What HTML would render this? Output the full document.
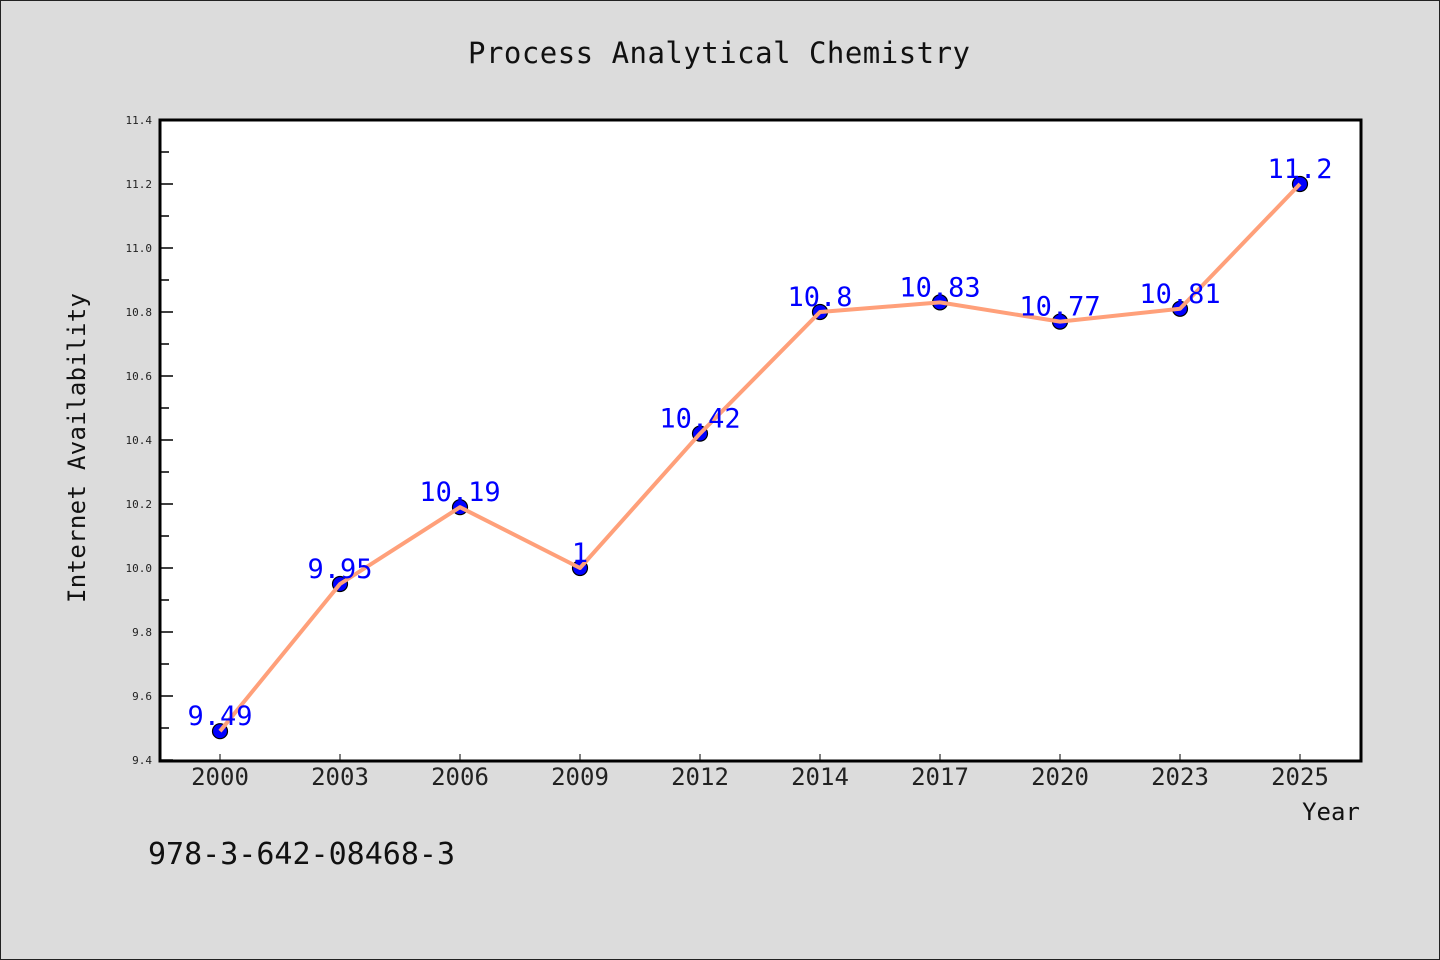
<!DOCTYPE html>
<html><head><meta charset="utf-8"><style>
html,body{margin:0;padding:0;background:#dcdcdc;}
svg{display:block;font-family:"WenQuanYi Zen Hei Mono","WenQuanYi Zen Hei","DejaVu Sans Mono",monospace;}
</style></head><body>
<svg id="chart" width="1440" height="960" viewBox="0 0 1440 960">
<rect x="0.5" y="0.5" width="1439" height="959" fill="#dcdcdc" stroke="#222" stroke-width="1"/>
<text x="719" y="63" font-size="29" text-anchor="middle" fill="#111" textLength="502">Process Analytical Chemistry</text>
<rect x="160" y="120" width="1201" height="641" fill="#fff"/>
<g id="axes"></g>
<g id="series"></g>
<rect x="160" y="120" width="1201" height="641" fill="none" stroke="#000" stroke-width="3"/>
<text x="1331" y="820" font-size="24" text-anchor="middle" fill="#111">Year</text>
<text transform="translate(85,448) rotate(-90)" font-size="24" text-anchor="middle" fill="#111" textLength="310">Internet Availability</text>
<text x="148" y="864" font-size="30" fill="#111">978-3-642-08468-3</text>
</svg>
<script>
const categories = ["2000","2003","2006","2009","2012","2014","2017","2020","2023","2025"];
const values = [9.49, 9.95, 10.19, 10.0, 10.42, 10.8, 10.83, 10.77, 10.81, 11.2];
const valueLabels = ["9.49","9.95","10.19","1","10.42","10.8","10.83","10.77","10.81","11.2"];
const yTicks = ["9.4","9.6","9.8","10.0","10.2","10.4","10.6","10.8","11.0","11.2","11.4"];
const NS="http://www.w3.org/2000/svg";
const x0=160,x1=1360,y0=760,y1=120,yMin=9.4,yMax=11.4;
function xs(i){return x0+(i+0.5)*(x1-x0)/categories.length;}
function ys(v){return y0-(v-yMin)/(yMax-yMin)*(y0-y1);}
function mk(tag,attrs,parent){const e=document.createElementNS(NS,tag);for(const k in attrs)e.setAttribute(k,attrs[k]);parent.appendChild(e);return e;}
const axes=document.getElementById('axes'),series=document.getElementById('series');
yTicks.forEach(t=>{const v=parseFloat(t),y=ys(v);
 const l=mk('line',{x1:160,x2:173,y1:y,y2:y,stroke:'#000','stroke-width':1.5},axes);
 
 
 const tx=mk('text',{x:152,y:y+4,'font-size':11,'text-anchor':'end',fill:'#222'},axes);tx.textContent=t;
 
 
 if(v<yMax-0.01){const ym=ys(v+0.1);const m=mk('line',{x1:160,x2:169,y1:ym,y2:ym,stroke:'#000','stroke-width':1.5},axes);
 
 }
});
categories.forEach((c,i)=>{const x=xs(i);
 const l=mk('line',{x1:x,x2:x,y1:760,y2:754,stroke:'#000','stroke-width':1},axes);
 
 
 const tx=mk('text',{x:x,y:785,'font-size':24,'text-anchor':'middle',fill:'#222'},axes);tx.textContent=c;
 
 
});
values.forEach((v,i)=>{const c=mk('circle',{cx:xs(i),cy:ys(v),r:7.5,fill:'#0000ff',stroke:'#000','stroke-width':1.2},series);
 
 });
const pl=mk('polyline',{points:values.map((v,i)=>xs(i)+','+ys(v)).join(' '),fill:'none',stroke:'#ffa07a','stroke-width':4,'stroke-linejoin':'round'},series);


values.forEach((v,i)=>{const t=mk('text',{x:xs(i),y:ys(v)-6,'font-size':27,'text-anchor':'middle',fill:'#0000ff'},series);t.textContent=valueLabels[i];
 
 });
</script>
</body></html>
